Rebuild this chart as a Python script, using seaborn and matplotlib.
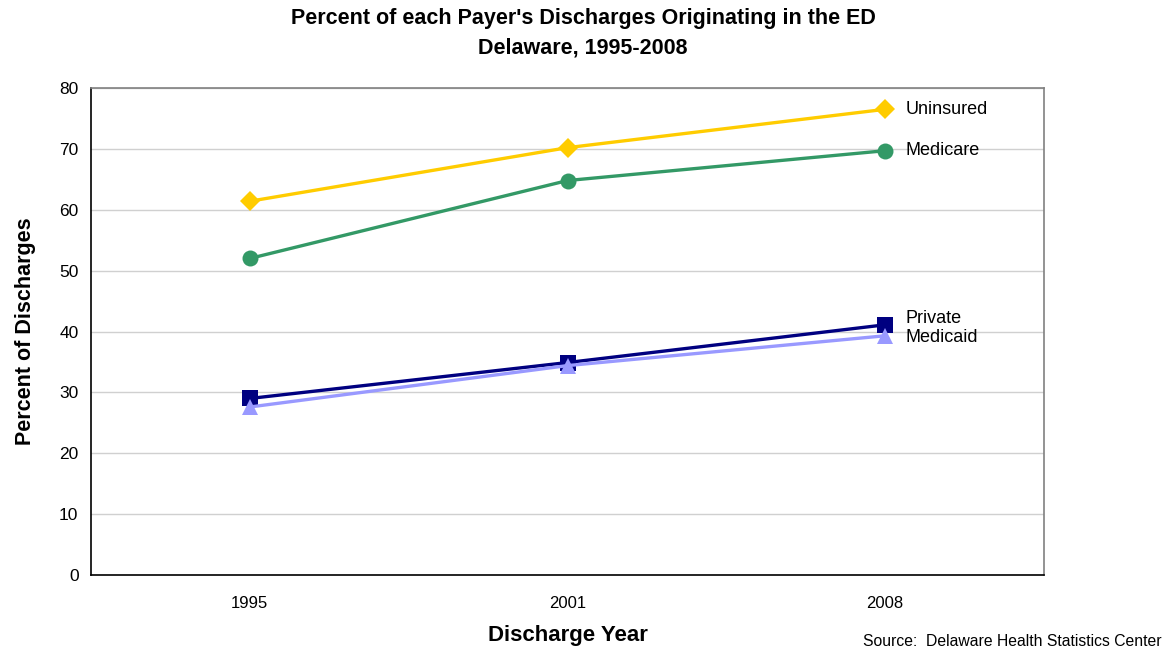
import numpy as np
import pandas as pd
import matplotlib.pyplot as plt
import seaborn as sns

years = ['1995', '2001', '2008']
payers = ['Uninsured', 'Medicare', 'Private', 'Medicaid']
uninsured = [61.4, 70.2, 76.5]
medicare = [52.0, 64.8, 69.7]
private = [29.0, 34.9, 41.1]
medicaid = [27.6, 34.4, 39.3]

colors = {'Uninsured': '#FFCC00', 'Medicare': '#339966',
          'Private': '#000080', 'Medicaid': '#9999FF'}
markers = {'Uninsured': 'D', 'Medicare': 'o', 'Private': 's', 'Medicaid': '^'}
label_offsets = {'Uninsured': 0, 'Medicare': 0, 'Private': 1.0, 'Medicaid': -0.3}

values = {'Uninsured': uninsured, 'Medicare': medicare,
          'Private': private, 'Medicaid': medicaid}
rows = []
for payer in payers:
    for i, year in enumerate(years):
        rows.append({'payer': payer, 'pos': i, 'year': year, 'value': values[payer][i]})
df = pd.DataFrame(rows)

sns.set_style('white')
plt.rcParams['font.family'] = ['Liberation Sans', 'DejaVu Sans']
plt.rcParams['text.color'] = 'black'
plt.rcParams['axes.labelcolor'] = 'black'
plt.rcParams['xtick.color'] = 'black'
plt.rcParams['ytick.color'] = 'black'

fig = plt.figure(figsize=(11.66, 6.52), dpi=100)
ax = fig.add_axes([91 / 1166, 1 - 575 / 652, (1044 - 91) / 1166, (575 - 88) / 652])

sns.lineplot(data=df, x='pos', y='value', hue='payer', style='payer',
             hue_order=payers, style_order=payers, palette=colors,
             markers=markers, dashes=False, linewidth=2.4, markersize=11.5,
             markeredgewidth=0, legend=False, ax=ax)

# diamond looks smaller than the others at same size
for line in ax.lines:
    if line.get_marker() == 'D':
        line.set_markersize(10.5)

for payer in payers:
    ax.text(2.063, values[payer][-1] + label_offsets[payer], payer,
            fontsize=13, va='center', ha='left')

ax.set_xlim(-0.5, 2.5)
ax.set_ylim(0, 80)
ax.set_yticks(np.arange(0, 81, 10))
ax.yaxis.grid(True, color='#D0D0D0', linewidth=1)
ax.set_axisbelow(True)

ax.set_xticks([0, 1, 2])
ax.set_xticklabels(years)
ax.set_xticks([-0.5, 0.5, 1.5, 2.5], minor=True)
ax.tick_params(axis='x', which='major', length=0, pad=15, labelsize=12)
ax.tick_params(axis='x', which='minor', length=5, direction='out', width=1)
ax.tick_params(axis='y', length=5, direction='out', width=1, labelsize=12.5, pad=4)

ax.spines['left'].set_color('black')
ax.spines['bottom'].set_color('black')
ax.spines['top'].set_color('#808080')
ax.spines['right'].set_color('#808080')
for s in ax.spines.values():
    s.set_linewidth(1.2)

ax.set_xlabel('Discharge Year', fontsize=16, fontweight='bold', labelpad=10)
ax.set_ylabel('Percent of Discharges', fontsize=15.5, fontweight='bold', labelpad=17)

fig.text(0.5, 0.988, "Percent of each Payer's Discharges Originating in the ED\nDelaware, 1995-2008",
         ha='center', va='top', fontsize=15.5, fontweight='bold', linespacing=1.55)
fig.text(0.996, 0.005, 'Source:  Delaware Health Statistics Center', ha='right', va='bottom', fontsize=11.3)

fig.savefig('out.png', dpi=100)
